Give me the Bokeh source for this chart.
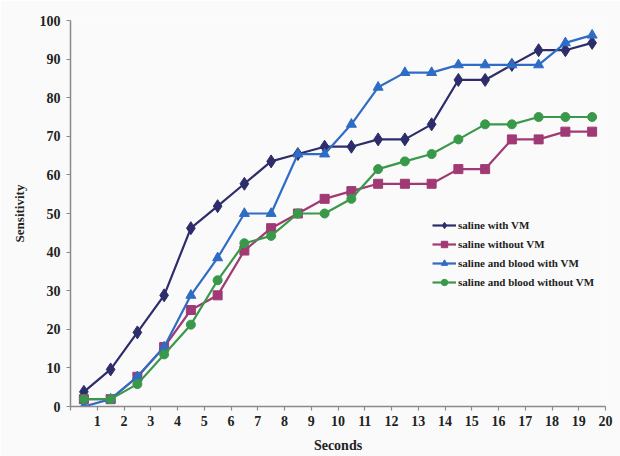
from bokeh.plotting import figure
from bokeh.models import Range1d, FixedTicker, Legend, LegendItem
from bokeh.embed import file_html
from bokeh.resources import INLINE

# Data (x = midpoints of each one-second interval)
seconds = [0.5, 1.5, 2.5, 3.5, 4.5, 5.5, 6.5, 7.5, 8.5, 9.5,
           10.5, 11.5, 12.5, 13.5, 14.5, 15.5, 16.5, 17.5, 18.5, 19.5]
x_tick_values = list(range(0, 21))
y_tick_values = list(range(0, 101, 10))

saline_with_vm = [3.8, 9.6, 19.2, 28.8, 46.2, 51.9, 57.7, 63.5, 65.4, 67.3,
                  67.3, 69.2, 69.2, 73.1, 84.6, 84.6, 88.5, 92.3, 92.3, 94.2]
saline_without_vm = [1.9, 1.9, 7.7, 15.4, 25.0, 28.8, 40.4, 46.2, 50.0, 53.8,
                     55.8, 57.7, 57.7, 57.7, 61.5, 61.5, 69.2, 69.2, 71.2, 71.2]
blood_with_vm = [0.0, 1.9, 7.7, 15.4, 28.8, 38.5, 50.0, 50.0, 65.4, 65.4,
                 73.1, 82.7, 86.5, 86.5, 88.5, 88.5, 88.5, 88.5, 94.2, 96.2]
blood_without_vm = [1.9, 1.9, 5.8, 13.5, 21.2, 32.7, 42.3, 44.2, 50.0, 50.0,
                    53.8, 61.5, 63.5, 65.4, 69.2, 73.1, 73.1, 75.0, 75.0, 75.0]

series = [
    ("saline with VM", saline_with_vm, "#2E2D6C", "diamond", 13),
    ("saline without VM", saline_without_vm, "#A03A74", "square", 9),
    ("saline and blood with VM", blood_with_vm, "#2F6CC4", "triangle", 10),
    ("saline and blood without VM", blood_without_vm, "#3A984A", "circle", 9),
]

FONT = "Liberation Serif"
BG = "#fafafa"

p = figure(width=620, height=456, output_backend="svg", toolbar_location=None,
           x_range=Range1d(0, 20), y_range=Range1d(0, 100),
           min_border_left=70, min_border_right=15, min_border_top=20,
           min_border_bottom=50)
p.background_fill_color = BG
p.border_fill_color = BG
p.outline_line_color = None
p.xgrid.visible = False
p.ygrid.visible = False

items = []
for name, vals, color, marker, size in series:
    r1 = p.line(seconds, vals, line_color=color, line_width=2.2)
    r2 = p.scatter(seconds, vals, marker=marker, size=size, fill_color=color,
                   line_color=color)
    items.append(LegendItem(label=name, renderers=[r1, r2]))

legend = Legend(items=items, location=(362, 116), padding=0, margin=0,
                spacing=3, glyph_width=24, glyph_height=16, label_height=16,
                label_standoff=2, background_fill_alpha=0,
                border_line_color=None, label_text_font=FONT,
                label_text_font_style="bold", label_text_font_size="11px",
                label_text_color="#222222")
p.add_layout(legend, "center")

for ax in (p.xaxis[0], p.yaxis[0]):
    ax.axis_line_color = "#8a8a8a"
    ax.axis_line_width = 1.5
    ax.major_tick_line_color = "#8a8a8a"
    ax.major_tick_line_width = 1.2
    ax.major_tick_out = 4
    ax.major_tick_in = 0
    ax.minor_tick_line_color = None
    ax.major_label_text_font = FONT
    ax.major_label_text_font_style = "bold"
    ax.major_label_text_font_size = "14px"
    ax.major_label_text_color = "#222222"
    ax.axis_label_text_font = FONT
    ax.axis_label_text_font_style = "bold"
    ax.axis_label_text_font_size = "14px"
    ax.axis_label_text_color = "#222222"

p.xaxis.ticker = FixedTicker(ticks=x_tick_values)
p.xaxis.major_label_overrides = {0: ""}
p.xaxis.axis_label = "Seconds"
p.xaxis.major_label_standoff = 5
p.xaxis.axis_label_standoff = 9

p.yaxis.ticker = FixedTicker(ticks=y_tick_values)
p.yaxis.axis_label = "Sensitivity"
p.yaxis.major_label_standoff = 6
p.yaxis.axis_label_standoff = 10
p.yaxis.axis_label_text_font_size = "13px"

open("out.html", "w").write(file_html(p, INLINE))
